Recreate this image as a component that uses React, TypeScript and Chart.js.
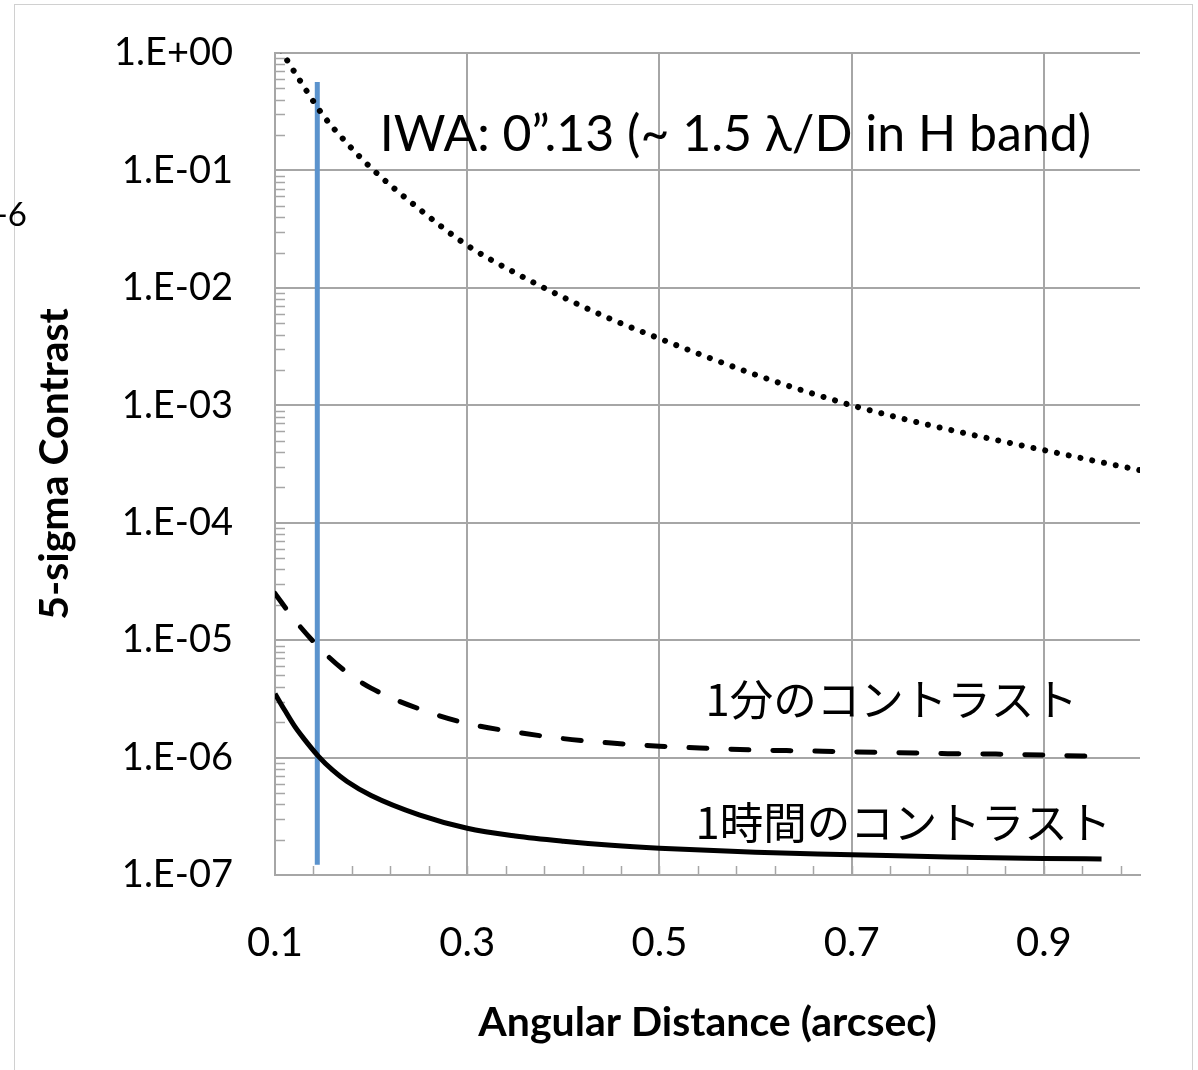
import React, { useEffect, useRef } from "react";
import { Chart, registerables } from "chart.js";

Chart.register(...registerables);

// ---- data ----
const rawX = [0.1, 0.11, 0.125, 0.15, 0.175, 0.2, 0.25, 0.3, 0.35, 0.4, 0.45, 0.5, 0.55, 0.6, 0.65, 0.7, 0.75, 0.8, 0.85, 0.9, 0.95, 1.0];
const rawContrast = [1.3, 0.94, 0.6, 0.295, 0.17, 0.105, 0.047, 0.023, 0.0134, 0.0083, 0.0054, 0.0037, 0.00257, 0.00182, 0.00133, 0.001, 0.00078, 0.000624, 0.000507, 0.000415, 0.00034, 0.00028];

const minuteX = [0.1, 0.12, 0.15, 0.175, 0.2, 0.25, 0.3, 0.35, 0.4, 0.45, 0.5, 0.55, 0.6, 0.65, 0.7, 0.75, 0.8, 0.85, 0.9, 0.96];
const minuteContrast = [2.5e-5, 1.5e-5, 8.0e-6, 5.3e-6, 3.9e-6, 2.6e-6, 1.95e-6, 1.65e-6, 1.45e-6, 1.33e-6, 1.25e-6, 1.2e-6, 1.16e-6, 1.14e-6, 1.12e-6, 1.1e-6, 1.08e-6, 1.07e-6, 1.05e-6, 1.02e-6];

const hourX = [0.1, 0.11, 0.12, 0.13, 0.145, 0.16, 0.175, 0.2, 0.25, 0.3, 0.35, 0.4, 0.45, 0.5, 0.6, 0.7, 0.8, 0.9, 0.96];
const hourContrast = [3.5e-6, 2.54e-6, 1.87e-6, 1.45e-6, 1.03e-6, 7.8e-7, 6.25e-7, 4.75e-7, 3.25e-7, 2.5e-7, 2.15e-7, 1.94e-7, 1.79e-7, 1.69e-7, 1.56e-7, 1.49e-7, 1.42e-7, 1.385e-7, 1.37e-7];

const iwaX = [0.144, 0.144];
const iwaContrast = [0.566, 1.22e-7];

const xTickValues = [0.1, 0.3, 0.5, 0.7, 0.9];
const yTickExponents = [0, -1, -2, -3, -4, -5, -6, -7];

const iwaLabel = "IWA: 0\u201D.13 (~ 1.5 \u03BB/D in H band)";
const minuteLabel = "1分のコントラスト";
const hourLabel = "1時間のコントラスト";
const xTitle = "Angular Distance (arcsec)";
const yTitle = "5-sigma Contrast";

const GRID = "#a6a6a6";
const LATIN = "Lato, 'Open Sans', sans-serif";
const CJK = "'Noto Sans CJK JP', 'Noto Sans', sans-serif";

function fmtExp(e: number) {
  const a = Math.abs(e);
  return "1.E" + (e < 0 ? "-" : "+") + (a < 10 ? "0" : "") + a;
}

const decorPlugin = {
  id: "decor",
  beforeDatasetsDraw(chart: any) {
    const { ctx, chartArea, scales } = chart;
    const x = scales.x;
    const y = scales.y;
    ctx.save();
    ctx.strokeStyle = GRID;
    ctx.lineWidth = 1.5;
    ctx.beginPath();
    for (let e = -7; e < 0; e++) {
      for (let k = 2; k <= 9; k++) {
        const py = Math.round(y.getPixelForValue(k * Math.pow(10, e))) + 0.5;
        ctx.moveTo(chartArea.left, py);
        ctx.lineTo(chartArea.left + 10, py);
      }
    }
    for (let k = 1; k <= 22; k++) {
      const v = 0.1 + 0.04 * k;
      const px = Math.round(x.getPixelForValue(v)) + 0.5;
      ctx.moveTo(px, chartArea.bottom);
      ctx.lineTo(px, chartArea.bottom - 9);
    }
    ctx.stroke();
    ctx.restore();
  },
  afterDraw(chart: any) {
    const { ctx, scales } = chart;
    const x = scales.x;
    const y = scales.y;
    ctx.save();
    ctx.fillStyle = "#000";
    ctx.textBaseline = "middle";
    ctx.textAlign = "left";
    ctx.font = `50px ${LATIN}`;
    ctx.fillText(iwaLabel, x.getPixelForValue(0.209), y.getPixelForValue(0.2));
    ctx.font = `43.5px ${CJK}`;
    ctx.fillText(minuteLabel, x.getPixelForValue(0.548), y.getPixelForValue(3.1e-6));
    ctx.fillText(hourLabel, x.getPixelForValue(0.5375), y.getPixelForValue(2.8e-7));
    // cropped neighbouring text at left edge
    ctx.font = `33px ${LATIN}`;
    ctx.textAlign = "right";
    ctx.textBaseline = "alphabetic";
    ctx.fillText("-6", 27, 226);
    ctx.restore();
  },
};

export default function App() {
  const ref = useRef<HTMLCanvasElement>(null);
  useEffect(() => {
    if (!ref.current) return;
    const toPts = (xs: number[], ys: number[]) => xs.map((v, i) => ({ x: v, y: ys[i] }));
    const chart = new Chart(ref.current, {
      type: "line",
      data: {
        datasets: [
          {
            label: "raw",
            data: toPts(rawX, rawContrast),
            borderColor: "#000",
            borderWidth: 6,
            borderDash: [0.01, 12],
            borderCapStyle: "round",
            pointRadius: 0,
            cubicInterpolationMode: "monotone",
            fill: false,
          },
          {
            label: "1min",
            data: toPts(minuteX, minuteContrast),
            borderColor: "#000",
            borderWidth: 5,
            borderDash: [18, 24],
            borderCapStyle: "round",
            pointRadius: 0,
            cubicInterpolationMode: "monotone",
            fill: false,
          },
          {
            label: "1hour",
            data: toPts(hourX, hourContrast),
            borderColor: "#000",
            borderWidth: 5,
            pointRadius: 0,
            cubicInterpolationMode: "monotone",
            fill: false,
          },
          {
            label: "IWA",
            data: toPts(iwaX, iwaContrast),
            borderColor: "#5b93cd",
            borderWidth: 5,
            pointRadius: 0,
            fill: false,
          },
        ],
      },
      options: {
        animation: false,
        responsive: false,
        devicePixelRatio: 1,
        layout: { padding: { left: 0, top: 53, right: 58, bottom: 0 } },
        plugins: { legend: { display: false }, tooltip: { enabled: false } },
        scales: {
          x: {
            type: "linear",
            min: 0.1,
            max: 1.0,
            afterBuildTicks: (s: any) => {
              s.ticks = xTickValues.map((v) => ({ value: v }));
            },
            afterFit: (s: any) => {
              s.height = 195;
              s.paddingLeft = 0;
              s.paddingRight = 0;
            },
            ticks: {
              callback: (v: any) => Number(v).toFixed(1),
              font: { family: LATIN, size: 40 },
              color: "#000",
              padding: 44,
              maxRotation: 0,
              autoSkip: false,
            },
            grid: {
              color: (c: any) => (c.tick && c.tick.value > 0.95 ? "rgba(0,0,0,0)" : GRID),
              lineWidth: 2,
              drawTicks: false,
            },
            border: { color: GRID, width: 2 },
            title: {
              display: true,
              text: xTitle,
              color: "#000",
              font: { family: LATIN, size: 41, weight: "bold" },
              padding: { top: 0, bottom: 23 },
            },
          },
          y: {
            type: "logarithmic",
            min: 1e-7,
            max: 1,
            afterBuildTicks: (s: any) => {
              s.ticks = yTickExponents.map((e) => ({ value: Math.pow(10, e) }));
            },
            afterFit: (s: any) => {
              s.width = 275;
              s.paddingTop = 0;
              s.paddingBottom = 0;
            },
            ticks: {
              callback: (v: any) => fmtExp(Math.round(Math.log10(Number(v)))),
              font: { family: LATIN, size: 38 },
              color: "#000",
              padding: 42,
              autoSkip: false,
            },
            grid: { color: GRID, lineWidth: 2, drawTicks: false },
            border: { color: GRID, width: 2 },
            title: {
              display: true,
              text: yTitle,
              color: "#000",
              font: { family: LATIN, size: 41, weight: "bold" },
              padding: { top: 30, bottom: 0 },
            },
          },
        },
      } as any,
      plugins: [decorPlugin],
    });
    return () => chart.destroy();
  }, []);
  return (
    <div style={{ position: "absolute", left: 0, top: 0, width: 1198, height: 1070, background: "#fff" }}>
      <div
        style={{
          position: "absolute",
          left: 14,
          top: 4,
          width: 1179,
          height: 1066,
          borderLeft: "1px solid #d0d0d0",
          borderTop: "1px solid #d0d0d0",
          borderRight: "1px solid #d0d0d0",
          boxSizing: "border-box",
        }}
      />
      <canvas ref={ref} width={1198} height={1070} style={{ position: "absolute", left: 0, top: 0 }} />
    </div>
  );
}
